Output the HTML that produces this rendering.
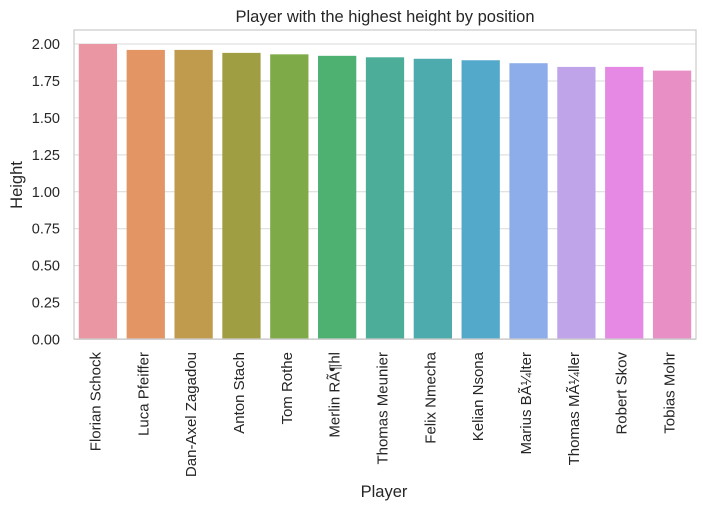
<!DOCTYPE html>
<html><head><meta charset="utf-8"><style>
body{margin:0;background:#fff;}
svg text{font-family:"Liberation Sans","DejaVu Sans",sans-serif;fill:#262626;}
</style></head><body>
<svg width="703" height="509">
<g id="grid"></g><g id="bars"></g><g id="ticks"></g>
<rect x="74" y="30" width="622" height="309" fill="none" stroke="#cccccc" stroke-width="1.25"/>
<text x="385" y="22" text-anchor="middle" font-size="16.5">Player with the highest height by position</text>
<text x="384" y="497" text-anchor="middle" font-size="16.5">Player</text>
<text transform="translate(22,185) rotate(-90)" text-anchor="middle" font-size="16.5">Height</text>
</svg>
<script>
const players=["Florian Schock","Luca Pfeiffer","Dan-Axel Zagadou","Anton Stach","Tom Rothe","Merlin RÃ¶hl","Thomas Meunier","Felix Nmecha","Kelian Nsona","Marius BÃ¼lter","Thomas MÃ¼ller","Robert Skov","Tobias Mohr"];
const heights=[2.00,1.96,1.96,1.94,1.93,1.92,1.91,1.90,1.89,1.87,1.845,1.845,1.82];
const colors=["#ea96a3","#e39564","#c09b4d","#9f9e43","#7eaa48","#4eb172","#4cad98","#4dabad","#52a9c9","#8dadea","#c0a4ea","#e589e4","#e890c6"];
const yTicks=[0,0.25,0.5,0.75,1.0,1.25,1.5,1.75,2.0];
const NS="http://www.w3.org/2000/svg";
const L=74,R=696,Y0=339.5,PX=147.75;
const y=v=>Y0-v*PX;
const step=(R-L)/players.length;
const x=i=>L+step*(i+0.5);
const grid=document.getElementById('grid'),bars=document.getElementById('bars'),ticks=document.getElementById('ticks');
yTicks.forEach(t=>{
 const l=document.createElementNS(NS,'line');
 l.setAttribute('x1',L);l.setAttribute('x2',R);l.setAttribute('y1',y(t));l.setAttribute('y2',y(t));
 l.setAttribute('stroke','#d9d9d9');l.setAttribute('stroke-width','1');
 
 
 grid.appendChild(l);
 const tx=document.createElementNS(NS,'text');
 tx.setAttribute('x',L-14);tx.setAttribute('y',y(t)+5);tx.setAttribute('text-anchor','end');tx.setAttribute('font-size','14.5');
 tx.textContent=t.toFixed(2);
 
 
 ticks.appendChild(tx);
});
players.forEach((p,i)=>{
 const w=step*0.8;
 const r=document.createElementNS(NS,'rect');
 r.setAttribute('x',x(i)-w/2);r.setAttribute('y',y(heights[i]));r.setAttribute('width',w);r.setAttribute('height',Y0-y(heights[i]));
 r.setAttribute('fill',colors[i]);
 
 
 bars.appendChild(r);
 const tx=document.createElementNS(NS,'text');
 tx.setAttribute('transform','translate('+(x(i)+2.5)+',352) rotate(-90)');
 tx.setAttribute('text-anchor','end');tx.setAttribute('font-size','15');
 tx.textContent=p;
 
 
 ticks.appendChild(tx);
});
</script>
</body></html>
